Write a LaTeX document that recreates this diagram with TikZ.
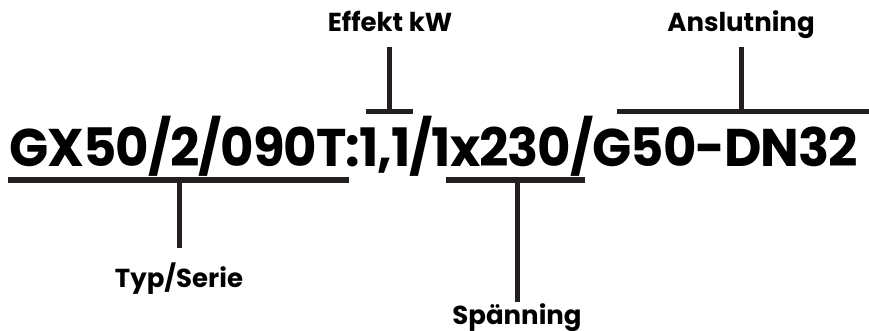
\documentclass[tikz,border=0pt]{standalone}
\usepackage{fontspec}
\setmainfont{Poppins}
\usetikzlibrary{positioning}

\definecolor{bar}{HTML}{231F20}

\begin{document}
\begin{tikzpicture}[x=1pt, y=-1pt,
		code/.style={font=\fontsize{53}{58}\selectfont\bfseries\addfontfeature{LetterSpace=-2}, inner sep=0pt, anchor=base west},
		label/.style={font=\fontsize{26}{28}\selectfont\bfseries, inner sep=0pt, anchor=base},
		bracket/.style={draw=bar, line width=5pt}]
		\useasboundingbox (0,0) rectangle (869,331);

		\node (code) [code] at (9,167) {\scalebox{0.97}[1]{GX50/2/090T:1,1/1x230/G50-DN32}};

		\node (typ) [label] at (179,287) {Typ/Serie};
		\node (effekt) [label] at (390,32) {Effekt kW};
		\node (span) [label] at (517,324) {Spänning};
		\node (ansl) [label] at (741,32) {Anslutning};

		% brackets under / over the code
		\coordinate (typL) at (8,180);
		\coordinate (typR) at (349,180);
		\coordinate (typE) at (179,248);
		\coordinate (effL) at (366,112);
		\coordinate (effR) at (413,112);
		\coordinate (effE) at (389,47);
		\coordinate (spanL) at (446,180);
		\coordinate (spanR) at (585,180);
		\coordinate (spanE) at (517,302);
		\coordinate (anslL) at (617,112);
		\coordinate (anslR) at (869,112);
		\coordinate (anslE) at (741,47);

		\path [bracket]
		(typL) edge (typR)
		(typE) edge (typE |- typL)
		(effL) edge (effR)
		(effE) edge (effE |- effL)
		(spanL) edge (spanR)
		(spanE) edge (spanE |- spanL)
		(anslL) edge (anslR)
		(anslE) edge (anslE |- anslL)
		;
	\end{tikzpicture}
\end{document}
